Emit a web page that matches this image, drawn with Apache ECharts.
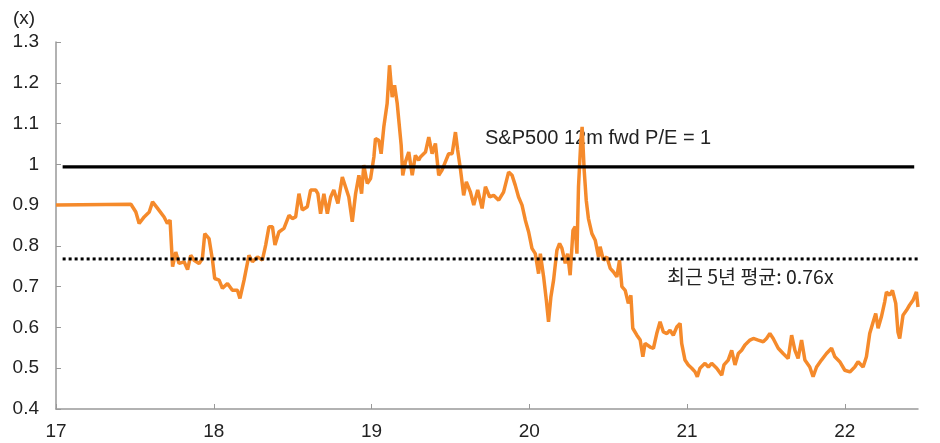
<!DOCTYPE html>
<html>
<head>
<meta charset="utf-8">
<title>S&P500 12m fwd P/E 대비</title>
<script src="https://cdn.jsdelivr.net/npm/echarts@6/dist/echarts.min.js"></script>
<style>
  html, body { margin: 0; padding: 0; background: #fff; }
  #chart { width: 940px; height: 443px; }
</style>
</head>
<body>
<div id="chart"></div>
<script>
// x values are fractional years (17 = 2017)
var dates = [
  17.000,17.475,17.506,17.527,17.559,17.591,17.612,17.644,17.685,17.706,
  17.723,17.739,17.759,17.780,17.812,17.834,17.854,17.875,17.907,17.928,
  17.943,17.970,17.992,18.006,18.034,18.055,18.087,18.118,18.150,18.166,
  18.192,18.223,18.245,18.277,18.308,
  18.329,18.350,18.372,18.388,18.413,18.445,18.477,18.498,18.519,18.540,
  18.561,18.593,18.614,18.646,18.660,18.677,18.698,18.720,18.741,18.761,
  18.787,18.815,18.835,18.856,18.878,18.899,18.920,18.937,18.951,18.973,
  18.994,19.015,19.025,19.046,19.061,19.078,19.099,19.114,19.131,19.146,
  19.163,19.173,19.188,19.198,19.215,19.236,19.258,19.278,19.299,
  19.310,19.342,19.363,19.384,19.405,19.426,19.447,19.468,19.489,19.511,
  19.532,19.546,19.563,19.584,19.601,19.627,19.648,19.673,19.701,19.722,
  19.749,19.774,19.806,19.837,19.869,19.891,19.911,19.932,19.954,19.975,
  19.996,20.017,20.038,20.059,20.070,20.091,20.108,20.122,20.137,20.154,
  20.175,20.192,20.207,20.228,20.243,20.259,20.277,20.291,20.302,20.312,
  20.327,20.335,20.348,20.361,20.375,20.397,20.418,20.439,
  20.449,20.470,20.492,20.513,20.534,20.555,20.572,20.587,20.608,20.628,
  20.644,20.656,20.682,20.703,20.720,20.734,20.766,20.787,20.808,20.829,
  20.850,20.872,20.892,20.913,20.935,20.956,20.966,20.987,21.008,21.030,
  21.051,21.065,21.082,21.114,21.135,21.156,21.188,21.220,21.234,21.261,
  21.283,21.304,21.325,21.346,21.367,21.399,21.420,21.451,21.483,21.504,
  21.525,21.546,21.578,
  21.609,21.641,21.663,21.684,21.704,21.726,21.747,21.778,21.799,21.821,
  21.852,21.884,21.916,21.937,21.968,22.000,22.032,22.063,22.084,22.116,
  22.137,22.158,22.180,22.196,22.211,22.232,22.253,22.264,22.285,22.302,
  22.323,22.337,22.348,22.369,22.391,22.411,22.433,22.454,22.464
];
var peRatio = [
  0.900,0.902,0.883,0.855,0.871,0.883,0.908,0.892,0.871,0.855,
  0.863,0.749,0.785,0.757,0.761,0.742,0.777,0.765,0.757,0.769,
  0.830,0.818,0.765,0.720,0.716,0.696,0.708,0.691,0.691,0.671,
  0.716,0.777,0.761,0.773,0.765,
  0.802,0.847,0.847,0.802,0.834,0.843,0.875,0.867,0.871,0.928,
  0.888,0.896,0.937,0.937,0.928,0.879,0.928,0.879,0.920,0.937,
  0.904,0.969,0.945,0.920,0.859,0.928,0.973,0.928,0.998,0.953,
  0.965,1.018,1.063,1.059,1.026,1.092,1.149,1.243,1.165,1.194,
  1.149,1.108,1.047,0.973,1.006,1.030,0.973,1.022,1.010,
  1.018,1.030,1.067,1.026,1.051,0.973,0.986,1.006,1.026,1.026,
  1.079,1.035,0.990,0.924,0.957,0.932,0.900,0.937,0.892,0.945,
  0.920,0.924,0.912,0.932,0.981,0.973,0.949,0.920,0.900,0.863,
  0.834,0.794,0.781,0.732,0.781,0.724,0.667,0.614,0.675,0.716,
  0.789,0.806,0.794,0.757,0.781,0.728,0.838,0.847,0.781,0.945,
  1.059,1.092,0.986,0.912,0.867,0.830,0.814,0.773,
  0.798,0.765,0.773,0.745,0.736,0.724,0.765,0.700,0.691,0.659,
  0.679,0.598,0.581,0.569,0.528,0.561,0.552,0.549,0.585,0.614,
  0.589,0.585,0.593,0.581,0.601,0.610,0.561,0.520,0.508,0.500,
  0.491,0.479,0.500,0.512,0.503,0.512,0.500,0.483,0.508,0.520,
  0.544,0.508,0.536,0.544,0.557,0.569,0.573,0.569,0.565,0.573,
  0.585,0.573,0.549,
  0.536,0.524,0.581,0.544,0.524,0.569,0.520,0.503,0.479,0.503,
  0.520,0.536,0.549,0.528,0.516,0.495,0.491,0.503,0.516,0.503,
  0.528,0.585,0.614,0.634,0.598,0.626,0.663,0.687,0.679,0.691,
  0.659,0.589,0.573,0.630,0.642,0.655,0.667,0.687,0.650
];

var yearTicks = [17, 18, 19, 20, 21, 22];
var parityLevel = 0.994;   // S&P500 12m fwd P/E = 1
var avgLevel = 0.768;      // 최근 5년 평균
var refStart = 17.042;
var refEnd = 22.44;
var avgEnd = 22.464;

var chart = echarts.init(document.getElementById('chart'));
var font = '"Liberation Sans", Arial, sans-serif';
var korFont = '"Noto Sans CJK KR", "Liberation Sans", sans-serif';

chart.setOption({
  animation: false,
  grid: { left: 56, right: 22, top: 42, bottom: 34 },
  xAxis: {
    type: 'value',
    min: 17,
    max: avgEnd,
    axisLine: { lineStyle: { color: '#999', width: 1.5 } },
    axisTick: { inside: true, length: 5, customValues: yearTicks, lineStyle: { color: '#999' } },
    axisLabel: { customValues: yearTicks, color: '#222', fontSize: 19, fontFamily: font, margin: 13 },
    splitLine: { show: false }
  },
  yAxis: {
    type: 'value',
    min: 0.4,
    max: 1.3,
    interval: 0.1,
    axisLine: { show: true, lineStyle: { color: '#999', width: 1.5 } },
    axisTick: { show: true, inside: true, length: 5, lineStyle: { color: '#999' } },
    axisLabel: { color: '#222', fontSize: 19, fontFamily: font, margin: 17 },
    splitLine: { show: false }
  },
  graphic: [
    { type: 'text', left: 13, top: 9, style: { text: '(x)', fontSize: 19, fontFamily: font, fill: '#222' } },
    { type: 'text', left: 485, top: 128, style: { text: 'S&P500 12m fwd P/E = 1', fontSize: 20, fontFamily: font, fill: '#222' } },
    { type: 'text', left: 667, top: 267, style: { text: '최근 5년 평균: 0.76x', fontSize: 19.5, fontFamily: korFont, fill: '#222' } }
  ],
  series: [
    {
      type: 'line',
      data: dates.map(function (d, i) { return [d, peRatio[i]]; }),
      showSymbol: false,
      lineStyle: { color: '#F58A2B', width: 3.5 },
      z: 2
    },
    {
      type: 'line',
      data: [[refStart, parityLevel], [refEnd, parityLevel]],
      showSymbol: false,
      lineStyle: { color: '#000', width: 3.2 },
      z: 3
    },
    {
      type: 'line',
      data: [[refStart, avgLevel], [avgEnd, avgLevel]],
      showSymbol: false,
      lineStyle: { color: '#000', width: 3, type: [3, 3] },
      z: 3
    }
  ]
});
</script>
</body>
</html>
